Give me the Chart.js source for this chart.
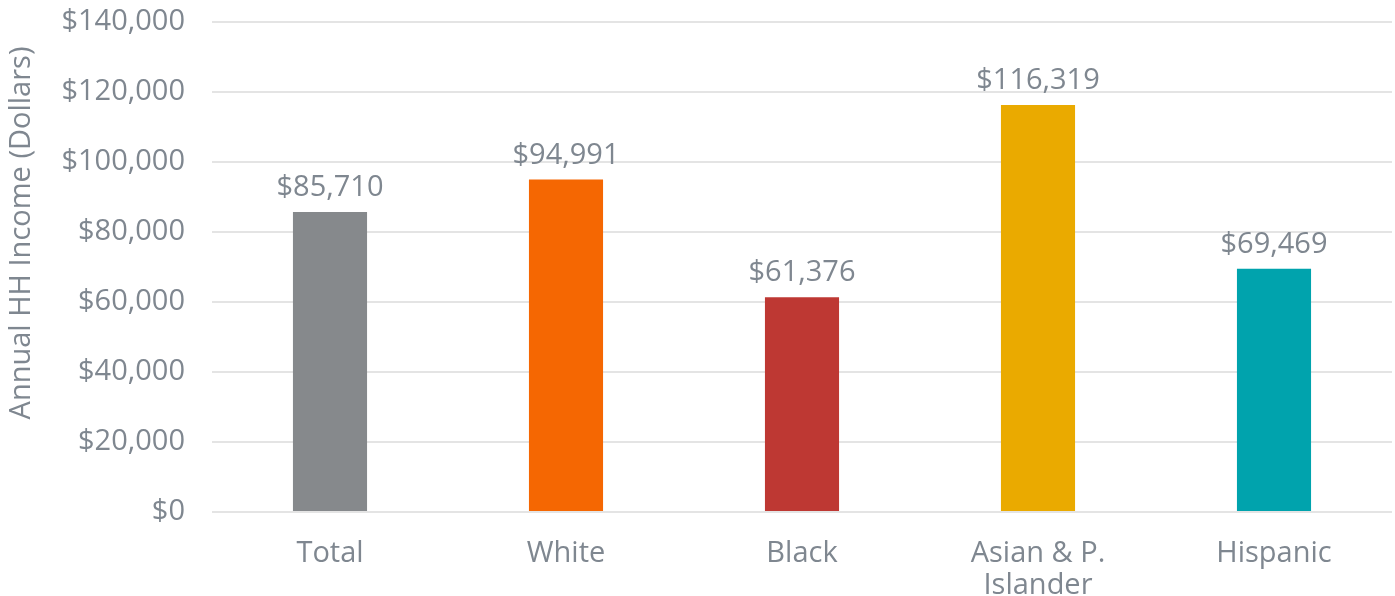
<!DOCTYPE html>
<html><head><meta charset="utf-8">
<script src="https://cdn.jsdelivr.net/npm/chart.js@4"></script>
<style>html,body{margin:0;padding:0;background:#fff}#wrap{width:1395px;height:596px}</style>
</head><body><div id="wrap"><canvas id="c" width="1395" height="596"></canvas></div>
<script>
const categories = ["Total", "White", "Black", ["Asian & P.", "Islander"], "Hispanic"];
const incomes = [85710, 94991, 61376, 116319, 69469];
const barColors = ["#86898c", "#f56702", "#be3833", "#eaaa00", "#00a3ad"];
const yTicks = [0, 20000, 40000, 60000, 80000, 100000, 120000, 140000];
const yTitle = "Annual HH Income (Dollars)";
const textColor = "#7f8790";
const fontFamily = "'Open Sans', sans-serif";
const fmt = v => "$" + v.toLocaleString("en-US");

const labelPlugin = {
  id: "barLabels",
  afterDatasetsDraw(chart) {
    const ctx = chart.ctx;
    const meta = chart.getDatasetMeta(0);
    ctx.save();
    ctx.font = "29px " + fontFamily;
    ctx.fillStyle = textColor;
    ctx.textAlign = "center";
    ctx.textBaseline = "alphabetic";
    meta.data.forEach((bar, i) => {
      ctx.fillText(fmt(incomes[i]), bar.x, bar.y - 16);
    });
    ctx.restore();
  }
};

const yTitlePlugin = {
  id: "yTitle",
  afterDraw(chart) {
    const ctx = chart.ctx;
    const area = chart.chartArea;
    ctx.save();
    ctx.translate(22, (area.top + area.bottom) / 2 - 34);
    ctx.rotate(-Math.PI / 2);
    ctx.font = "29px " + fontFamily;
    ctx.fillStyle = textColor;
    ctx.textAlign = "center";
    ctx.textBaseline = "middle";
    ctx.fillText(yTitle, 0, 0);
    ctx.restore();
  }
};

new Chart(document.getElementById("c"), {
  type: "bar",
  data: {
    labels: categories,
    datasets: [{ data: incomes, backgroundColor: barColors, categoryPercentage: 1, barPercentage: 0.314 }]
  },
  options: {
    responsive: false,
    animation: false,
    layout: { padding: { top: 22, right: 3, left: 0, bottom: 0 } },
    plugins: { legend: { display: false }, tooltip: { enabled: false } },
    scales: {
      x: {
        grid: { display: false },
        border: { display: false },
        ticks: { color: textColor, font: { size: 29, family: fontFamily, lineHeight: 1.1 }, padding: 18, maxRotation: 0 },
        afterFit(s) { s.height = 84; s.paddingLeft = 0; s.paddingRight = 0; }
      },
      y: {
        min: 0, max: 140000,
        afterBuildTicks(s) { s.ticks = yTicks.map(v => ({ value: v })); },
        grid: { color: "#e4e4e4", lineWidth: 2, drawTicks: false },
        border: { display: false },
        ticks: { color: textColor, font: { size: 29, family: fontFamily }, padding: 27, callback: v => fmt(v) },
        title: { display: false },
        afterFit(s) { s.width = 212; s.paddingTop = 0; s.paddingBottom = 0; }
      }
    }
  },
  plugins: [labelPlugin, yTitlePlugin]
});
</script></body></html>
